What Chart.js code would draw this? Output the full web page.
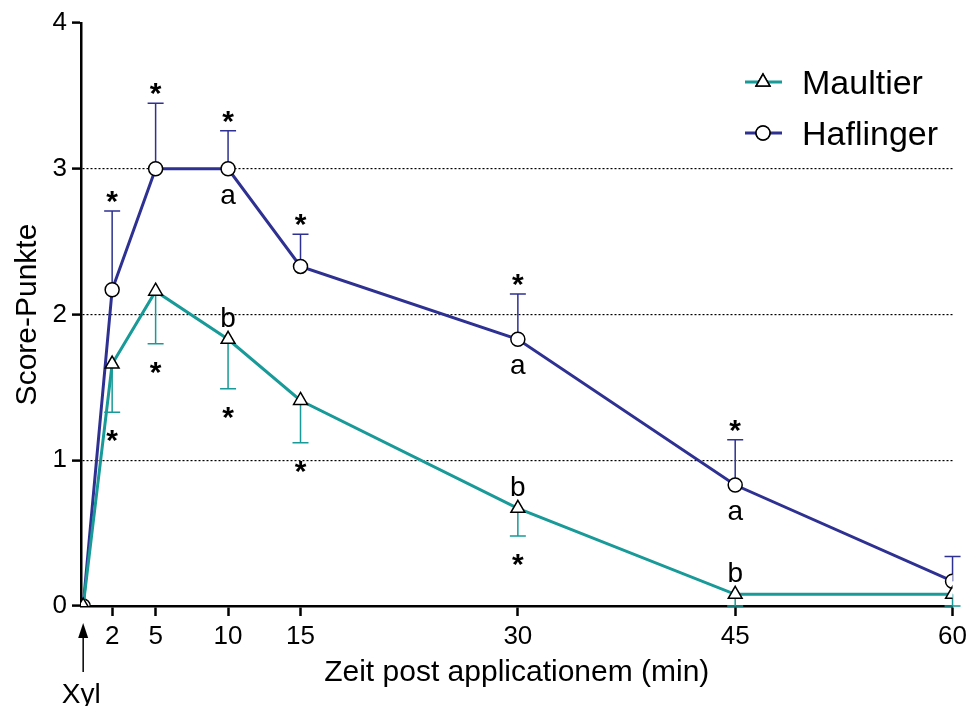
<!DOCTYPE html>
<html>
<head>
<meta charset="utf-8">
<script src="https://cdn.jsdelivr.net/npm/chart.js@4/dist/chart.umd.min.js"></script>
<style>
  html, body { margin: 0; padding: 0; background: #fff; }
</style>
</head>
<body>
<canvas id="myChart" width="972" height="706"></canvas>
<script>
// time points (min) and series values
const times = [0, 2, 5, 10, 15, 30, 45, 60];
const xTicks = [2, 5, 10, 15, 30, 45, 60];
const yTicks = [0, 1, 2, 3, 4];

const maultier = [0, 1.66, 2.16, 1.83, 1.41, 0.67, 0.08, 0.08];
const maultierSem = [0, 0.33, 0.36, 0.34, 0.29, 0.19, 0.08, 0.08];   // drawn downwards
const haflinger = [0, 2.17, 3.0, 3.0, 2.33, 1.83, 0.83, 0.17];
const haflingerSem = [0, 0.54, 0.45, 0.26, 0.22, 0.31, 0.31, 0.17]; // drawn upwards

// significance marks
const haflingerStar = [false, true, true, true, true, true, true, false];
const haflingerLetter = ['', '', '', 'a', '', 'a', 'a', ''];
const maultierStar = [false, true, true, true, true, true, false, false];
const maultierLetter = ['', '', '', 'b', '', 'b', 'b', ''];

const teal = 'rgb(24, 154, 152)';
const navy = 'rgb(46, 49, 146)';
const fontFamily = '"Liberation Sans", Arial, sans-serif';

const Maultier = times.map((x, i) => { return { x: x, y: maultier[i] } });
const Haflinger = times.map((x, i) => { return { x: x, y: haflinger[i] } });

// error bars under the markers
const errorBars = {
  id: 'errorBars',
  beforeDatasetsDraw(chart) {
    const ctx = chart.ctx;
    const xs = chart.scales.x, ys = chart.scales.y;
    ctx.save();
    ctx.lineWidth = 1.5;
    const bar = (x, v, e, dir, color) => {
      if (e <= 0) return;
      const px = xs.getPixelForValue(x);
      const y0 = ys.getPixelForValue(v);
      const y1 = ys.getPixelForValue(v + dir * e);
      ctx.strokeStyle = color;
      ctx.beginPath();
      ctx.moveTo(px, y0);
      ctx.lineTo(px, y1);
      ctx.moveTo(px - 8, y1);
      ctx.lineTo(px + 8, y1);
      ctx.stroke();
    };
    times.forEach((t, i) => {
      bar(t, haflinger[i], haflingerSem[i], 1, navy);
      bar(t, maultier[i], maultierSem[i], -1, teal);
    });
    ctx.restore();
  }
};

// stars, letters, legend and the Xyl arrow
const extras = {
  id: 'extras',
  afterDraw(chart) {
    const ctx = chart.ctx;
    const xs = chart.scales.x, ys = chart.scales.y;
    ctx.save();
    ctx.fillStyle = '#000';
    ctx.textAlign = 'center';
    ctx.textBaseline = 'alphabetic';
    times.forEach((t, i) => {
      const px = xs.getPixelForValue(t);
      const hp = ys.getPixelForValue(haflinger[i]);
      const hTop = ys.getPixelForValue(haflinger[i] + haflingerSem[i]);
      const mp = ys.getPixelForValue(maultier[i]);
      const mBot = ys.getPixelForValue(maultier[i] - maultierSem[i]);
      ctx.font = 'bold 30px ' + fontFamily;
      if (haflingerStar[i]) ctx.fillText('*', px, hTop);
      if (maultierStar[i]) ctx.fillText('*', px, mBot + 38);
      ctx.font = '28px ' + fontFamily;
      if (haflingerLetter[i]) ctx.fillText(haflingerLetter[i], px, hp + 35);
      if (maultierLetter[i]) ctx.fillText(maultierLetter[i], px, mp - 12);
    });

    // legend
    const rows = [
      { label: 'Maultier', color: teal, style: 'triangle', r: 8, y: 82 },
      { label: 'Haflinger', color: navy, style: 'circle', r: 7, y: 133 }
    ];
    rows.forEach(row => {
      ctx.strokeStyle = row.color;
      ctx.lineWidth = 3;
      ctx.beginPath();
      ctx.moveTo(745, row.y);
      ctx.lineTo(782, row.y);
      ctx.stroke();
      ctx.fillStyle = '#fff';
      ctx.strokeStyle = '#000';
      ctx.lineWidth = 1.5;
      Chart.helpers.drawPoint(ctx, { pointStyle: row.style, radius: row.r, borderWidth: 1.5 }, 763, row.y);
      ctx.fill();
      ctx.stroke();
      ctx.fillStyle = '#000';
      ctx.textAlign = 'left';
      ctx.font = '34px ' + fontFamily;
      ctx.fillText(row.label, 802, row.y + 12);
    });

    // Xyl arrow at time 0
    const ax = xs.getPixelForValue(0);
    ctx.strokeStyle = '#000';
    ctx.fillStyle = '#000';
    ctx.lineWidth = 1.5;
    ctx.beginPath();
    ctx.moveTo(ax, 672);
    ctx.lineTo(ax, 632);
    ctx.stroke();
    ctx.beginPath();
    ctx.moveTo(ax, 623);
    ctx.lineTo(ax - 5, 638);
    ctx.lineTo(ax + 5, 638);
    ctx.closePath();
    ctx.fill();
    ctx.textAlign = 'center';
    ctx.font = '28px ' + fontFamily;
    ctx.fillText('Xyl', ax - 2, 703);
    ctx.restore();
  }
};

var myChart = document.getElementById('myChart').getContext('2d');

var scoreChart = new Chart(myChart, {
  type: 'scatter',
  data: {
    datasets: [{
      label: 'Maultier',
      data: Maultier,
      showLine: true,
      borderColor: teal,
      borderWidth: 3,
      pointStyle: 'triangle',
      pointRadius: 8,
      pointBackgroundColor: '#fff',
      pointBorderColor: '#000',
      pointBorderWidth: 1.5
    }, {
      label: 'Haflinger',
      data: Haflinger,
      showLine: true,
      borderColor: navy,
      borderWidth: 3,
      pointStyle: 'circle',
      pointRadius: 7,
      pointBackgroundColor: '#fff',
      pointBorderColor: '#000',
      pointBorderWidth: 1.5
    }]
  },
  options: {
    responsive: false,
    animation: false,
    events: [],
    layout: { padding: { left: 0, top: 23, right: 14, bottom: 0 } },
    scales: {
      x: {
        type: 'linear',
        min: -0.15,
        max: 60,
        afterBuildTicks: scale => { scale.ticks = xTicks.map(v => ({ value: v })); },
        afterFit: scale => { scale.height = 100; },
        border: { color: '#000', width: 2.5 },
        grid: { drawOnChartArea: false, tickLength: 10, tickColor: '#000', tickWidth: 2.5 },
        ticks: { color: '#000', padding: 5, maxRotation: 0, font: { family: fontFamily, size: 26 } },
        title: {
          display: true,
          text: 'Zeit post applicationem (min)',
          color: '#000',
          font: { family: fontFamily, size: 30 },
          padding: { top: 0, bottom: 15 }
        }
      },
      y: {
        min: 0,
        max: 4,
        afterBuildTicks: scale => { scale.ticks = yTicks.map(v => ({ value: v })); },
        afterFit: scale => { scale.width = 81; },
        border: { color: '#000', width: 2.5, dash: [2, 2] },
        grid: {
          color: ctx => (ctx.tick && ctx.tick.value > 0 && ctx.tick.value < 4) ? '#000' : 'rgba(0,0,0,0)',
          lineWidth: 1.2,
          tickLength: 9,
          tickColor: '#000',
          tickWidth: 2.5,
          tickBorderDash: []
        },
        ticks: { color: '#000', padding: 5, font: { family: fontFamily, size: 26 } },
        title: {
          display: true,
          text: 'Score-Punkte',
          color: '#000',
          font: { family: fontFamily, size: 30 },
          padding: { top: 10, bottom: 0 }
        }
      }
    },
    plugins: {
      legend: { display: false },
      tooltip: { enabled: false }
    }
  },
  plugins: [errorBars, extras]
});
</script>
</body>
</html>
